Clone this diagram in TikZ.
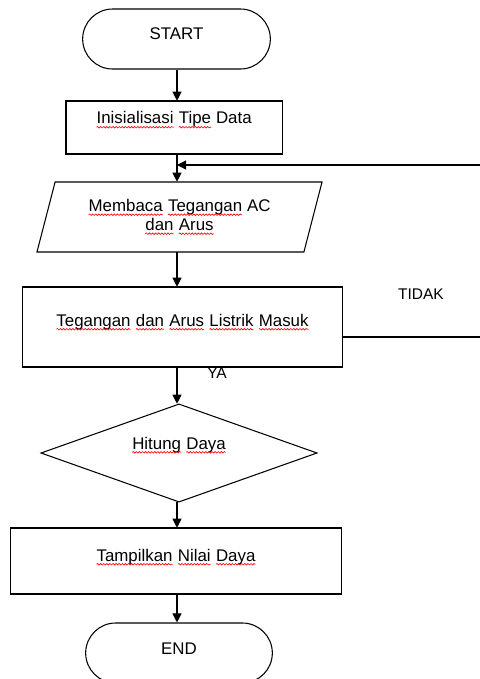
\documentclass[tikz,border=0pt]{standalone}
\usepackage{fontspec}
\setmainfont{Liberation Sans}
\usetikzlibrary{shapes.geometric, shapes.misc, arrows.meta, decorations.pathmorphing}

\tikzset{
    gelombang/.style={red, line width=0.45pt, decorate, decoration={snake, amplitude=0.55pt, segment length=2.2pt}}
}
% garis merah bergelombang di bawah kata
\newcommand{\salah}[1]{\tikz[baseline=(k.base)]{%
    \node[shape=rectangle, draw=none, inner sep=0pt, outer sep=0pt, minimum width=0pt, minimum height=0pt,
          text height=, text depth=, align=none] (k) {#1};
    \draw[gelombang] ([yshift=-2.3pt]k.base west) -- ([yshift=-2.3pt]k.base east);}}

\begin{document}
\begin{tikzpicture}[x=0.025cm, y=-0.025cm, line width=0.75pt,
        every node/.style={font=\fontsize{12}{13.5}\selectfont},
        kotak/.style={draw, rectangle, text height=9pt},
        ujung/.style={draw, rounded rectangle, text height=9pt},
        label kecil/.style={font=\fontsize{11}{13}\selectfont},
        panah/.style={-{Triangle[length=6.5pt,width=6.5pt]}}]
    \useasboundingbox (0,0) rectangle (480,679);
    \clip (0,0) rectangle (480,679);
    \node[ujung, minimum width=4.925cm, minimum height=1.5cm, text depth=9pt] (mulai) at (176.5,39) {START};
    \node[kotak, minimum width=5.4cm, minimum height=1.325cm, text depth=14pt] (inisial) at (174,127.5) {\salah{Inisialisasi} \salah{Tipe} Data};
    \node[draw, trapezium, trapezium left angle=68, trapezium right angle=112, trapezium stretches body,
          minimum width=7.125cm, minimum height=1.75cm, align=center] (baca) at (179.5,217)
          {\salah{Membaca} \salah{Tegangan} AC\\\salah{dan} \salah{Arus}};
    \node[kotak, minimum width=7.975cm, minimum height=2cm, text depth=10.4pt] (cek) at (182.5,327)
          {\salah{Tegangan} \salah{dan} \salah{Arus} \salah{Listrik} \salah{Masuk}};
    \node[draw, diamond, aspect=2.8, minimum width=6.9cm, minimum height=2.45cm, text height=9pt, text depth=14.6pt] (hitung) at (179,453) {\salah{Hitung} \salah{Daya}};
    \node[kotak, minimum width=8.25cm, minimum height=1.65cm, text depth=9pt] (tampil) at (176,561) {\salah{Tampilkan} \salah{Nilai} \salah{Daya}};
    \node[ujung, minimum width=4.9cm, minimum height=1.5cm, text depth=7.5pt] (selesai) at (179,653) {END};
    \node[label kecil] (tidak) at (421,294) {TIDAK};
    \node[label kecil] (ya) at (217,373) {YA};
    % alur utama
    \coordinate (poros) at (177,0);
    \draw[panah] (mulai.south -| poros) -- (inisial.north -| poros);
    \draw[panah] (inisial.south -| poros) -- (baca.north -| poros);
    \draw[panah] (baca.south -| poros) -- (cek.north -| poros);
    \draw[panah] (cek.south -| poros) -- (hitung.north -| poros);
    \draw[panah] (hitung.south -| poros) -- (tampil.north -| poros);
    \draw[panah] (tampil.south -| poros) -- (selesai.north -| poros);
    % balik ke atas (TIDAK)
    \coordinate (balikA) at (480,337);
    \coordinate (balikB) at (480,165);
    \draw (cek.east |- balikA) -- (balikA);
    \draw[panah] (balikB) -- (balikB -| poros);
\end{tikzpicture}
\end{document}
